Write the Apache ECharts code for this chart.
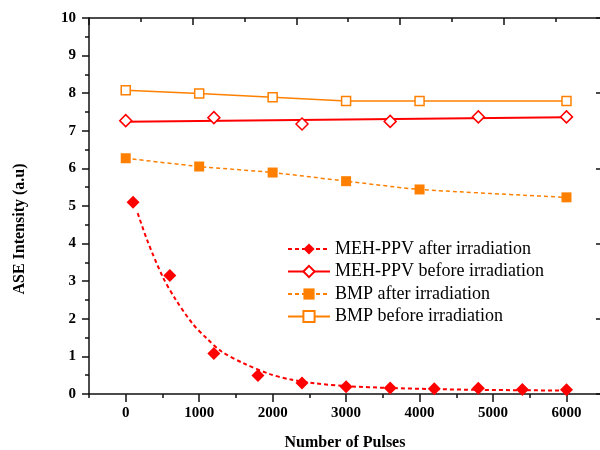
<!DOCTYPE html>
<html>
<head>
<meta charset="utf-8">
<script src="https://cdn.jsdelivr.net/npm/echarts@6/dist/echarts.min.js"></script>
<style>
  html, body { margin: 0; padding: 0; background: #fff; }
  #chart { width: 600px; height: 450px; }
</style>
</head>
<body>
<div id="chart"></div>
<script>
// MEH-PPV after irradiation (measured points + dashed decay fit)
var mehAfterX = [100, 600, 1200, 1800, 2400, 3000, 3600, 4200, 4800, 5400, 6000];
var mehAfterY = [5.10, 3.15, 1.08, 0.49, 0.29, 0.19, 0.16, 0.14, 0.15, 0.12, 0.11];
var mehFitX = [163, 300, 503, 671, 906, 1102, 1306, 1600, 1963, 2235, 2599, 3000, 3600, 4200, 4800, 5400, 6000];
var mehFitY = [4.81, 4.05, 3.12, 2.54, 1.88, 1.48, 1.13, 0.82, 0.53, 0.39, 0.28, 0.21, 0.16, 0.13, 0.11, 0.10, 0.09];

// MEH-PPV before irradiation (points + straight fit)
var mehBeforeX = [0, 1200, 2400, 3600, 4800, 6000];
var mehBeforeY = [7.27, 7.35, 7.18, 7.25, 7.37, 7.37];
var mehBeforeFitX = [0, 6000];
var mehBeforeFitY = [7.24, 7.36];

// BMP
var bmpX = [0, 1000, 2000, 3000, 4000, 6000];
var bmpAfterY = [6.27, 6.05, 5.89, 5.66, 5.44, 5.23];
var bmpBeforeY = [8.08, 7.99, 7.89, 7.79, 7.79, 7.79];

// axis ticks
var xMajorTicks = [0, 1000, 2000, 3000, 4000, 5000, 6000];
var xMinorTicks = [-500, 500, 1500, 2500, 3500, 4500, 5500];

var names = [
  "MEH-PPV after irradiation",
  "MEH-PPV before irradiation",
  "BMP after irradiation",
  "BMP before irradiation"
];

function pairs(xs, ys) {
  return xs.map(function (x, i) { return [x, ys[i]]; });
}

var RED = "#ff0000";
var ORANGE = "#ff8000";
var AXIS = "#111";
var FONT = "Liberation Serif";

var chart = echarts.init(document.getElementById("chart"), null, { renderer: "canvas" });

var option = {
  animation: false,
  backgroundColor: "#fff",
  grid: { left: 89, right: -1, top: 18, bottom: 56, outerBoundsMode: "none" },
  legend: {
    data: names,
    orient: "vertical",
    left: 287,
    top: 240,
    padding: 0,
    itemWidth: 42,
    itemHeight: 14,
    itemGap: 4.5,
    textStyle: { fontFamily: FONT, fontSize: 18, color: "#000" }
  },
  graphic: [
    {
      type: "text",
      x: 20,
      y: 229,
      rotation: Math.PI / 2,
      style: {
        text: "ASE Intensity (a.u)",
        font: "bold 16px \"Liberation Serif\"",
        fill: "#000",
        textAlign: "center",
        textVerticalAlign: "middle",
        align: "center",
        verticalAlign: "middle"
      }
    }
  ],
  xAxis: [
    {
      type: "value",
      position: "bottom",
      min: -500,
      max: 6470,
      name: "Number of Pulses",
      nameLocation: "middle",
      nameGap: 41,
      nameTextStyle: { fontFamily: FONT, fontSize: 16, fontWeight: "bold", color: "#000" },
      axisLine: { show: true, onZero: false, lineStyle: { color: AXIS, width: 1.5 } },
      axisTick: { show: true, length: 8, customValues: xMajorTicks, lineStyle: { color: AXIS, width: 1.5 } },
      axisLabel: {
        customValues: xMajorTicks,
        margin: 12,
        formatter: function (v) { return String(v); },
        fontFamily: FONT, fontSize: 15, fontWeight: "bold", color: "#000"
      },
      splitLine: { show: false }
    },
    {
      type: "value",
      position: "bottom",
      min: -500,
      max: 6470,
      axisLine: { show: false },
      axisTick: { show: true, length: 4, customValues: xMinorTicks, lineStyle: { color: AXIS, width: 1.5 } },
      axisLabel: { show: false },
      splitLine: { show: false }
    },
    {
      type: "value",
      position: "top",
      min: 0,
      max: 4.94,
      interval: 1,
      axisLine: { show: true, onZero: false, lineStyle: { color: AXIS, width: 1.5 } },
      axisTick: { show: true, inside: true, length: 7, lineStyle: { color: AXIS, width: 1.5 } },
      minorTick: { show: true, splitNumber: 2, length: 4, lineStyle: { color: AXIS, width: 1.5 } },
      axisLabel: { show: false },
      splitLine: { show: false },
      minorSplitLine: { show: false }
    }
  ],
  yAxis: [
    {
      type: "value",
      position: "left",
      min: 0,
      max: 10,
      interval: 1,
      axisLine: { show: true, onZero: false, lineStyle: { color: AXIS, width: 1.5 } },
      axisTick: { show: true, length: 7, lineStyle: { color: AXIS, width: 1.5 } },
      minorTick: { show: true, splitNumber: 2, length: 4, lineStyle: { color: AXIS, width: 1.5 } },
      axisLabel: {
        margin: 13,
        showMinLabel: true,
        showMaxLabel: true,
        fontFamily: FONT, fontSize: 15, fontWeight: "bold", color: "#000"
      },
      splitLine: { show: false },
      minorSplitLine: { show: false }
    },
    {
      type: "value",
      position: "right",
      min: 0,
      max: 10,
      interval: 2,
      axisLine: { show: true, onZero: false, lineStyle: { color: AXIS, width: 1.5 } },
      axisTick: { show: true, inside: true, length: 5, lineStyle: { color: AXIS, width: 1.5 } },
      axisLabel: { show: false },
      splitLine: { show: false }
    }
  ],
  series: [
    // legend entries (fit / connecting lines)
    {
      name: names[0],
      type: "line",
      data: pairs(mehFitX, mehFitY),
      smooth: 0.3,
      symbol: "diamond",
      showSymbol: false,
      itemStyle: { color: RED },
      lineStyle: { color: RED, width: 2, type: [4, 3] },
      z: 2
    },
    {
      name: names[1],
      type: "line",
      data: pairs(mehBeforeFitX, mehBeforeFitY),
      symbol: "diamond",
      showSymbol: false,
      itemStyle: { color: "#fff", borderColor: RED, borderWidth: 1.5 },
      lineStyle: { color: RED, width: 2 },
      z: 2
    },
    {
      name: names[2],
      type: "line",
      data: pairs(bmpX, bmpAfterY),
      smooth: 0.2,
      symbol: "rect",
      symbolSize: 10,
      showSymbol: true,
      itemStyle: { color: ORANGE },
      lineStyle: { color: ORANGE, width: 1.5, type: [4, 3] },
      z: 3
    },
    {
      name: names[3],
      type: "line",
      data: pairs(bmpX, bmpBeforeY),
      symbol: "rect",
      symbolSize: 9,
      showSymbol: true,
      itemStyle: { color: "#fff", borderColor: ORANGE, borderWidth: 1.5 },
      lineStyle: { color: ORANGE, width: 1.5 },
      z: 3
    },
    // measured points for MEH-PPV
    {
      name: "MEH-PPV after (points)",
      type: "scatter",
      data: pairs(mehAfterX, mehAfterY),
      symbol: "diamond",
      symbolSize: 13,
      itemStyle: { color: RED, opacity: 1 },
      z: 4
    },
    {
      name: "MEH-PPV before (points)",
      type: "scatter",
      data: pairs(mehBeforeX, mehBeforeY),
      symbol: "diamond",
      symbolSize: 12,
      itemStyle: { color: "#fff", borderColor: RED, borderWidth: 1.5, opacity: 1 },
      z: 4
    }
  ]
};

chart.setOption(option);
</script>
</body>
</html>
